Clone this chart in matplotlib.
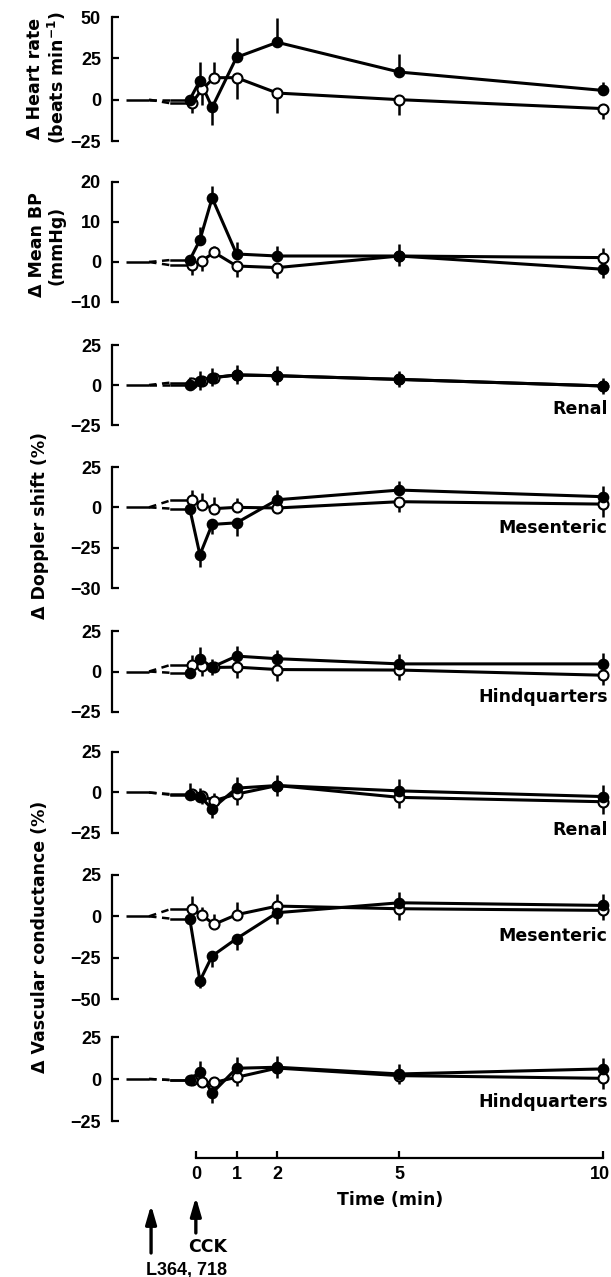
import matplotlib
matplotlib.use("Agg")
import matplotlib.pyplot as plt
from matplotlib import transforms

W, H, DPI = 611, 1277, 100
plt.rcParams["font.family"] = ["DejaVu Sans"]
plt.rcParams["font.weight"] = "bold"

# sampling times (min); open symbols are plotted slightly to the right
t_filled = [-0.15, 0.1, 0.4, 1, 2, 5, 10]
t_open = [-0.1, 0.15, 0.45, 1, 2, 5, 10]
time_ticks = [0, 1, 2, 5, 10]
time_ticklabels = ["0", "1", "2", "5", "10"]

# heart rate (beats/min)
hr_f = [0, 11.5, -4.7, 25.6, 34.7, 16.7, 5.6]
hr_f_lo = [0, 0, 10.5, 0, 0, 0, 0]
hr_f_hi = [2, 11.5, 0, 12, 14.5, 11, 5]
hr_o = [-2.2, 6.2, 13.3, 13.3, 4, 0, -5.4]
hr_o_lo = [6, 9.5, 0, 13, 12, 9.5, 6]
hr_o_hi = [0, 0, 9.5, 0, 0, 0, 0]

# mean blood pressure (mmHg)
bp_f = [0.5, 5.5, 16, 2, 1.5, 1.5, -1.8]
bp_f_lo = [0, 0, 0, 0, 0, 0, 2.3]
bp_f_hi = [0, 3.3, 3, 3, 2.5, 3, 0]
bp_o = [-0.8, 0.3, 2.4, -1, -1.4, 1.5, 1.1]
bp_o_lo = [2.5, 2.5, 0, 2.7, 2.6, 2.5, 0]
bp_o_hi = [0, 0, 1.5, 0, 0, 0, 2.3]

# Doppler shift (%)
rd_f = [0, 2.5, 4.6, 6.3, 5.8, 3.5, -0.6]
rd_f_lo = [0, 5.5, 5.5, 5.5, 5.5, 5, 5]
rd_f_hi = [5, 6, 6, 6, 6, 5, 5]
rd_o = [1.5, 2.5, 4.6, 6.3, 5.8, 3.5, -0.6]
rd_o_lo = [0, 0, 0, 0, 0, 0, 0]
rd_o_hi = [0, 0, 0, 0, 0, 0, 0]

md_f = [-0.8, -29.4, -10.6, -9.6, 4.7, 10.7, 6.6]
md_f_lo = [0, 7.8, 6, 8, 0, 0, 0]
md_f_hi = [0, 0, 0, 0, 6, 5.7, 6.5]
md_o = [4.3, 1.6, -0.8, 0, -0.4, 3.5, 2]
md_o_lo = [0, 0, 0, 0, 0, 6.7, 7.8]
md_o_hi = [6.5, 7, 7, 6, 0, 0, 0]

hd_f = [-0.8, 7.9, 2.7, 9.5, 7.9, 4.7, 4.7]
hd_f_lo = [0, 0, 5, 0, 0, 0, 0]
hd_f_hi = [0, 7, 5, 6, 5.6, 6, 7]
hd_o = [4.1, 3.3, 2.5, 2.7, 1.2, 0.9, -2.3]
hd_o_lo = [0, 6, 0, 7, 7, 6.4, 6]
hd_o_hi = [6, 0, 0, 0, 0, 0, 0]

# vascular conductance (%)
rv_f = [-1.4, -2.5, -10, 2.7, 4.3, 1, -2.5]
rv_f_lo = [0, 0, 6, 0, 6.5, 0, 0]
rv_f_hi = [7, 5, 0, 7, 6.5, 7.6, 7]
rv_o = [-1, -2, -5, -1, 4.3, -3, -5.7]
rv_o_lo = [0, 5, 0, 7, 0, 6.8, 7.6]
rv_o_hi = [0, 0, 4.5, 0, 0, 0, 0]

mv_f = [-1.4, -39, -24, -13.5, 2.2, 8.2, 6.6]
mv_f_lo = [0, 4.6, 6.6, 6.6, 6.6, 0, 0]
mv_f_hi = [0, 0, 0, 0, 0, 6.8, 7]
mv_o = [4.4, 0.6, -4.8, 1, 6.2, 4.6, 3.6]
mv_o_lo = [0, 0, 0, 0, 0, 6.6, 6]
mv_o_hi = [7.6, 5, 6.4, 7.6, 7.4, 0, 0]

hv_f = [-0.6, 4.4, -8.4, 6.4, 7, 3, 6]
hv_f_lo = [0, 0, 5.6, 0, 6.6, 6, 0]
hv_f_hi = [0, 6.6, 0, 6.6, 6.6, 6, 6.4]
hv_o = [-0.6, -2, -2, 1, 6.5, 2, 0.4]
hv_o_lo = [0, 0, 0, 5, 0, 0, 6.4]
hv_o_hi = [0, 0, 0, 0, 0, 0, 0]

region_names = ["Renal", "Mesenteric", "Hindquarters"]

FS_WORD = 12.5          # words and axis titles
FS_NUM = 13             # numeric tick labels
NUM_FONT = "Liberation Sans"
LW = 2.2
XMIN, XMAX = -2.06, 10.2
AX_LEFT_PX = 112

fig = plt.figure(figsize=(W / DPI, H / DPI), dpi=DPI)


def make_axes(top_px, bottom_px):
    return fig.add_axes([AX_LEFT_PX / W, 1 - bottom_px / H,
                         1 - AX_LEFT_PX / W, (bottom_px - top_px) / H])


def style_axes(ax, ylim, yticks, yticklabels):
    ax.set_xlim(XMIN, XMAX)
    ax.set_ylim(*ylim)
    ax.patch.set_alpha(0)
    for side in ("top", "right", "bottom"):
        ax.spines[side].set_visible(False)
    ax.spines["left"].set_linewidth(1.6)
    ax.set_xticks([])
    ax.set_yticks(yticks)
    ax.set_yticklabels(yticklabels, family=NUM_FONT, weight="bold",
                       fontsize=FS_NUM)
    ax.tick_params(axis="y", direction="in", length=5, width=1.6, pad=8)


def draw_series(ax, t, y, lo, hi, filled):
    ax.errorbar(t, y, yerr=[lo, hi], fmt="none", ecolor="k",
                elinewidth=1.8, capsize=0, zorder=2, clip_on=False)
    # lead-in baseline: dashed break, then steady level up to the first sample
    ax.plot([-1.15, -0.62], [0, y[0]], color="k", lw=1.8,
            ls=(0, (3, 2.2)), zorder=2, clip_on=False)
    ax.plot([-0.62, t[0]], [y[0], y[0]], color="k", lw=1.8, zorder=2,
            clip_on=False)
    ax.plot(t, y, "-", color="k", lw=LW, zorder=3, clip_on=False)
    if filled:
        ax.plot(t, y, "o", ms=7.2, mfc="k", mec="k", mew=1.2, zorder=5,
                clip_on=False)
    else:
        ax.plot(t, y, "o", ms=7.2, mfc="white", mec="k", mew=1.5, zorder=4,
                clip_on=False)


def panel(top_px, bottom_px, ylim, yticks, yticklabels,
          yf, yf_lo, yf_hi, yo, yo_lo, yo_hi, label=None, label_y=None):
    ax = make_axes(top_px, bottom_px)
    style_axes(ax, ylim, yticks, yticklabels)
    ax.plot([-1.72, -1.15], [0, 0], color="k", lw=1.8, zorder=2,
            solid_capstyle="butt")
    draw_series(ax, t_open, yo, yo_lo, yo_hi, filled=False)
    draw_series(ax, t_filled, yf, yf_lo, yf_hi, filled=True)
    if label is not None:
        ax.text(10.12, label_y, label, ha="right", va="center",
                fontsize=FS_WORD)
    return ax


ax_hr = panel(17, 141, (-25, 50), [-25, 0, 25, 50], ["−25", "0", "25", "50"],
              hr_f, hr_f_lo, hr_f_hi, hr_o, hr_o_lo, hr_o_hi)
ax_bp = panel(182, 302, (-10, 20), [-10, 0, 10, 20], ["−10", "0", "10", "20"],
              bp_f, bp_f_lo, bp_f_hi, bp_o, bp_o_lo, bp_o_hi)

ax_rd = panel(345, 425, (-25, 25), [-25, 0, 25], ["−25", "0", "25"],
              rd_f, rd_f_lo, rd_f_hi, rd_o, rd_o_lo, rd_o_hi,
              region_names[0], -15)
ax_md = panel(467, 588, (-50, 25), [-50, -25, 0, 25], ["−30", "−25", "0", "25"],
              md_f, md_f_lo, md_f_hi, md_o, md_o_lo, md_o_hi,
              region_names[1], -13)
ax_hd = panel(631, 712, (-25, 25), [-25, 0, 25], ["−25", "0", "25"],
              hd_f, hd_f_lo, hd_f_hi, hd_o, hd_o_lo, hd_o_hi,
              region_names[2], -16)

ax_rv = panel(752, 833, (-25, 25), [-25, 0, 25], ["−25", "0", "25"],
              rv_f, rv_f_lo, rv_f_hi, rv_o, rv_o_lo, rv_o_hi,
              region_names[0], -23)
ax_mv = panel(875, 999, (-50, 25), [-50, -25, 0, 25], ["−50", "−25", "0", "25"],
              mv_f, mv_f_lo, mv_f_hi, mv_o, mv_o_lo, mv_o_hi,
              region_names[1], -12)
ax_hv = panel(1037, 1121, (-25, 25), [-25, 0, 25], ["−25", "0", "25"],
              hv_f, hv_f_lo, hv_f_hi, hv_o, hv_o_lo, hv_o_hi,
              region_names[2], -13.5)

# time axis below the last panel
sp = ax_hv.spines["bottom"]
sp.set_visible(True)
sp.set_linewidth(1.6)
sp.set_position(("outward", 37 * 72 / DPI))
sp.set_bounds(0, 10)
ax_hv.set_xticks(time_ticks)
ax_hv.set_xticklabels(time_ticklabels, family=NUM_FONT, weight="bold",
                      fontsize=FS_NUM)
ax_hv.tick_params(axis="x", direction="in", length=5, width=1.6, pad=6)
last = ax_hv.get_xticklabels()[-1]
last.set_horizontalalignment("right")
last.set_transform(last.get_transform() +
                   transforms.ScaledTranslation(7 / DPI, 0,
                                                fig.dpi_scale_trans))
fig.text(390 / W, 1 - 1200 / H, "Time (min)", ha="center", va="center",
         fontsize=FS_WORD)

# y-axis titles
fig.text(47 / W, 1 - 78 / H, "Δ Heart rate\n(beats min$^{\\mathbf{-1}}$)",
         rotation=90, ha="center", va="center", fontsize=FS_WORD,
         linespacing=1.1)
fig.text(47 / W, 1 - 245 / H, "Δ Mean BP\n(mmHg)", rotation=90,
         ha="center", va="center", fontsize=FS_WORD, linespacing=1.1)
fig.text(40 / W, 1 - 525 / H, "Δ Doppler shift (%)", rotation=90,
         ha="center", va="center", fontsize=FS_WORD)
fig.text(40 / W, 1 - 937 / H, "Δ Vascular conductance (%)", rotation=90,
         ha="center", va="center", fontsize=FS_WORD)

# drug administration markers
tr = transforms.blended_transform_factory(ax_hv.transData, fig.transFigure)
arrow_style = dict(arrowstyle="-|>,head_length=1.1,head_width=0.32",
                   color="k", lw=2.4, shrinkA=0, shrinkB=0)
ax_hv.annotate("", xy=(-1.1, 1 - 1205 / H), xytext=(-1.1, 1 - 1253 / H),
               xycoords=tr, textcoords=tr, arrowprops=arrow_style,
               annotation_clip=False)
ax_hv.annotate("", xy=(0, 1 - 1197 / H), xytext=(0, 1 - 1233 / H),
               xycoords=tr, textcoords=tr, arrowprops=arrow_style,
               annotation_clip=False)
fig.text(188 / W, 1 - 1247 / H, "CCK", ha="left", va="center",
         fontsize=FS_WORD)
fig.text(146 / W, 1 - 1270 / H, "L364, 718", ha="left", va="center",
         family=NUM_FONT, weight="bold", fontsize=FS_NUM)

fig.savefig("out.png", dpi=DPI)
